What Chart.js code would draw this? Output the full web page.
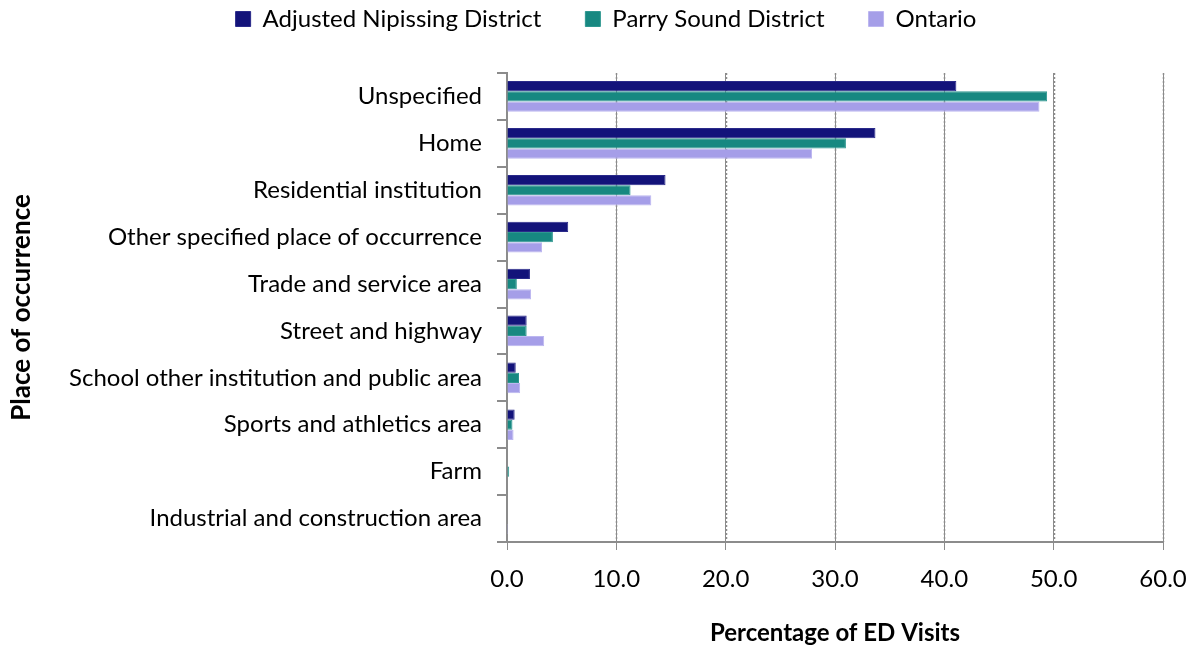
<!DOCTYPE html>
<html>
<head>
<meta charset="utf-8">
<script src="https://cdn.jsdelivr.net/npm/chart.js@4.4.1/dist/chart.umd.min.js"></script>
<style>
  html, body { margin: 0; padding: 0; background: #ffffff; }
  #wrap { width: 1196px; height: 648px; position: relative; }
</style>
</head>
<body>
<div id="wrap"><canvas id="c" width="1196" height="648"></canvas></div>
<script>
// Place of occurrence categories (top to bottom)
const categories = [
  "Unspecified",
  "Home",
  "Residential institution",
  "Other specified place of occurrence",
  "Trade and service area",
  "Street and highway",
  "School other institution and public area",
  "Sports and athletics area",
  "Farm",
  "Industrial and construction area"
];

// Percentage of ED visits by place of occurrence
const nipissing = [41.1, 33.7, 14.5, 5.6, 2.1, 1.8, 0.8, 0.7, 0.0, 0.0];
const parrySound = [49.4, 31.0, 11.3, 4.2, 0.9, 1.8, 1.1, 0.5, 0.2, 0.0];
const ontario = [48.7, 27.9, 13.2, 3.2, 2.2, 3.4, 1.2, 0.6, 0.05, 0.1];

const xTicks = [0, 10, 20, 30, 40, 50, 60];

const seriesNames = ["Adjusted Nipissing District", "Parry Sound District", "Ontario"];
const seriesColors = ["#13137a", "#178881", "#a59ee8"];
const seriesBorders = ["#2a2a8a", "#2e9790", "#bcb6f0"];

const FONT = "Lato, 'Open Sans', 'Liberation Sans', sans-serif";
const LEGEND_HEIGHT = 73;   // space reserved above the plot area
const LEGEND_CENTER_Y = 19; // vertical centre of the legend row
const LEGEND_PAD = 44;      // gap between legend entries
const LEGEND_FONT = 24;

const data = {
  labels: categories,
  datasets: [nipissing, parrySound, ontario].map((vals, i) => ({
    label: seriesNames[i],
    data: vals,
    backgroundColor: seriesColors[i],
    borderColor: seriesBorders[i],
    borderWidth: 1,
    categoryPercentage: 0.655,
    barPercentage: 1.0
  }))
};

// Legend sizing: fixed band height and row position, centred on the canvas
const legendLayout = {
  id: "legendLayout",
  beforeInit(chart) {
    const legend = chart.legend;
    if (!legend || legend._fixedFit) return;
    const fit = legend.fit.bind(legend);
    legend.fit = function () {
      fit();
      this.height = LEGEND_HEIGHT;
    };
    legend._fixedFit = true;
  },
  afterLayout(chart) {
    const legend = chart.legend;
    if (!legend) return;
    const itemH = Math.max(LEGEND_FONT, 15);
    legend.top = LEGEND_CENTER_Y - itemH / 2 - LEGEND_PAD;
    legend.bottom = legend.top + LEGEND_HEIGHT;
    legend.left = 8;
    legend.right = chart.width + 8;
  }
};

// Dotted vertical gridlines across the plot area
const dottedGrid = {
  id: "dottedGrid",
  beforeDatasetsDraw(chart) {
    const { ctx, chartArea, scales } = chart;
    ctx.save();
    ctx.strokeStyle = "#8c8c8c";
    ctx.lineWidth = 1.5;
    ctx.setLineDash([2, 2]);
    xTicks.slice(1).forEach(v => {
      const x = Math.round(scales.x.getPixelForValue(v)) + 0.5;
      ctx.beginPath();
      ctx.moveTo(x, chartArea.top);
      ctx.lineTo(x, chartArea.bottom);
      ctx.stroke();
    });
    ctx.restore();
  }
};

new Chart(document.getElementById("c"), {
  type: "bar",
  data: data,
  options: {
    indexAxis: "y",
    responsive: false,
    animation: false,
    layout: { padding: { left: 0, right: 33, top: 0, bottom: 0 } },
    plugins: {
      legend: {
        position: "top",
        labels: {
          boxWidth: 15,
          boxHeight: 15,
          color: "#000000",
          font: { family: FONT, size: LEGEND_FONT },
          padding: LEGEND_PAD
        }
      },
      tooltip: { enabled: false }
    },
    scales: {
      x: {
        min: 0,
        max: 60,
        afterBuildTicks: (axis) => { axis.ticks = xTicks.map(v => ({ value: v })); },
        afterFit: (axis) => {
          axis.height = 106;
          axis.paddingLeft = 0;
          axis.paddingRight = 0;
        },
        border: { display: true, color: "#8c8c8c", width: 2 },
        grid: {
          display: true,
          color: "#8c8c8c",
          lineWidth: 1,
          tickLength: 8,
          drawTicks: true
        },
        ticks: {
          color: "#000000",
          font: { family: FONT, size: 24 },
          padding: 15,
          callback: (v) => Number(v).toFixed(1)
        },
        title: {
          display: true,
          text: "Percentage of ED Visits",
          color: "#000000",
          font: { family: FONT, size: 24, weight: "bold" },
          padding: { top: 10, bottom: 0 }
        }
      },
      y: {
        afterFit: (axis) => { axis.width = 507; },
        border: { display: true, color: "#8c8c8c", width: 2 },
        grid: {
          display: true,
          offset: true,
          drawOnChartArea: false,
          color: "#8c8c8c",
          lineWidth: 2,
          tickLength: 10
        },
        ticks: {
          color: "#000000",
          font: { family: FONT, size: 24 },
          padding: 15
        },
        title: {
          display: true,
          text: "Place of occurrence",
          color: "#000000",
          font: { family: FONT, size: 26, weight: "bold" },
          padding: { top: 6, bottom: 0 }
        }
      }
    }
  },
  plugins: [legendLayout, dottedGrid]
});
</script>
</body>
</html>
